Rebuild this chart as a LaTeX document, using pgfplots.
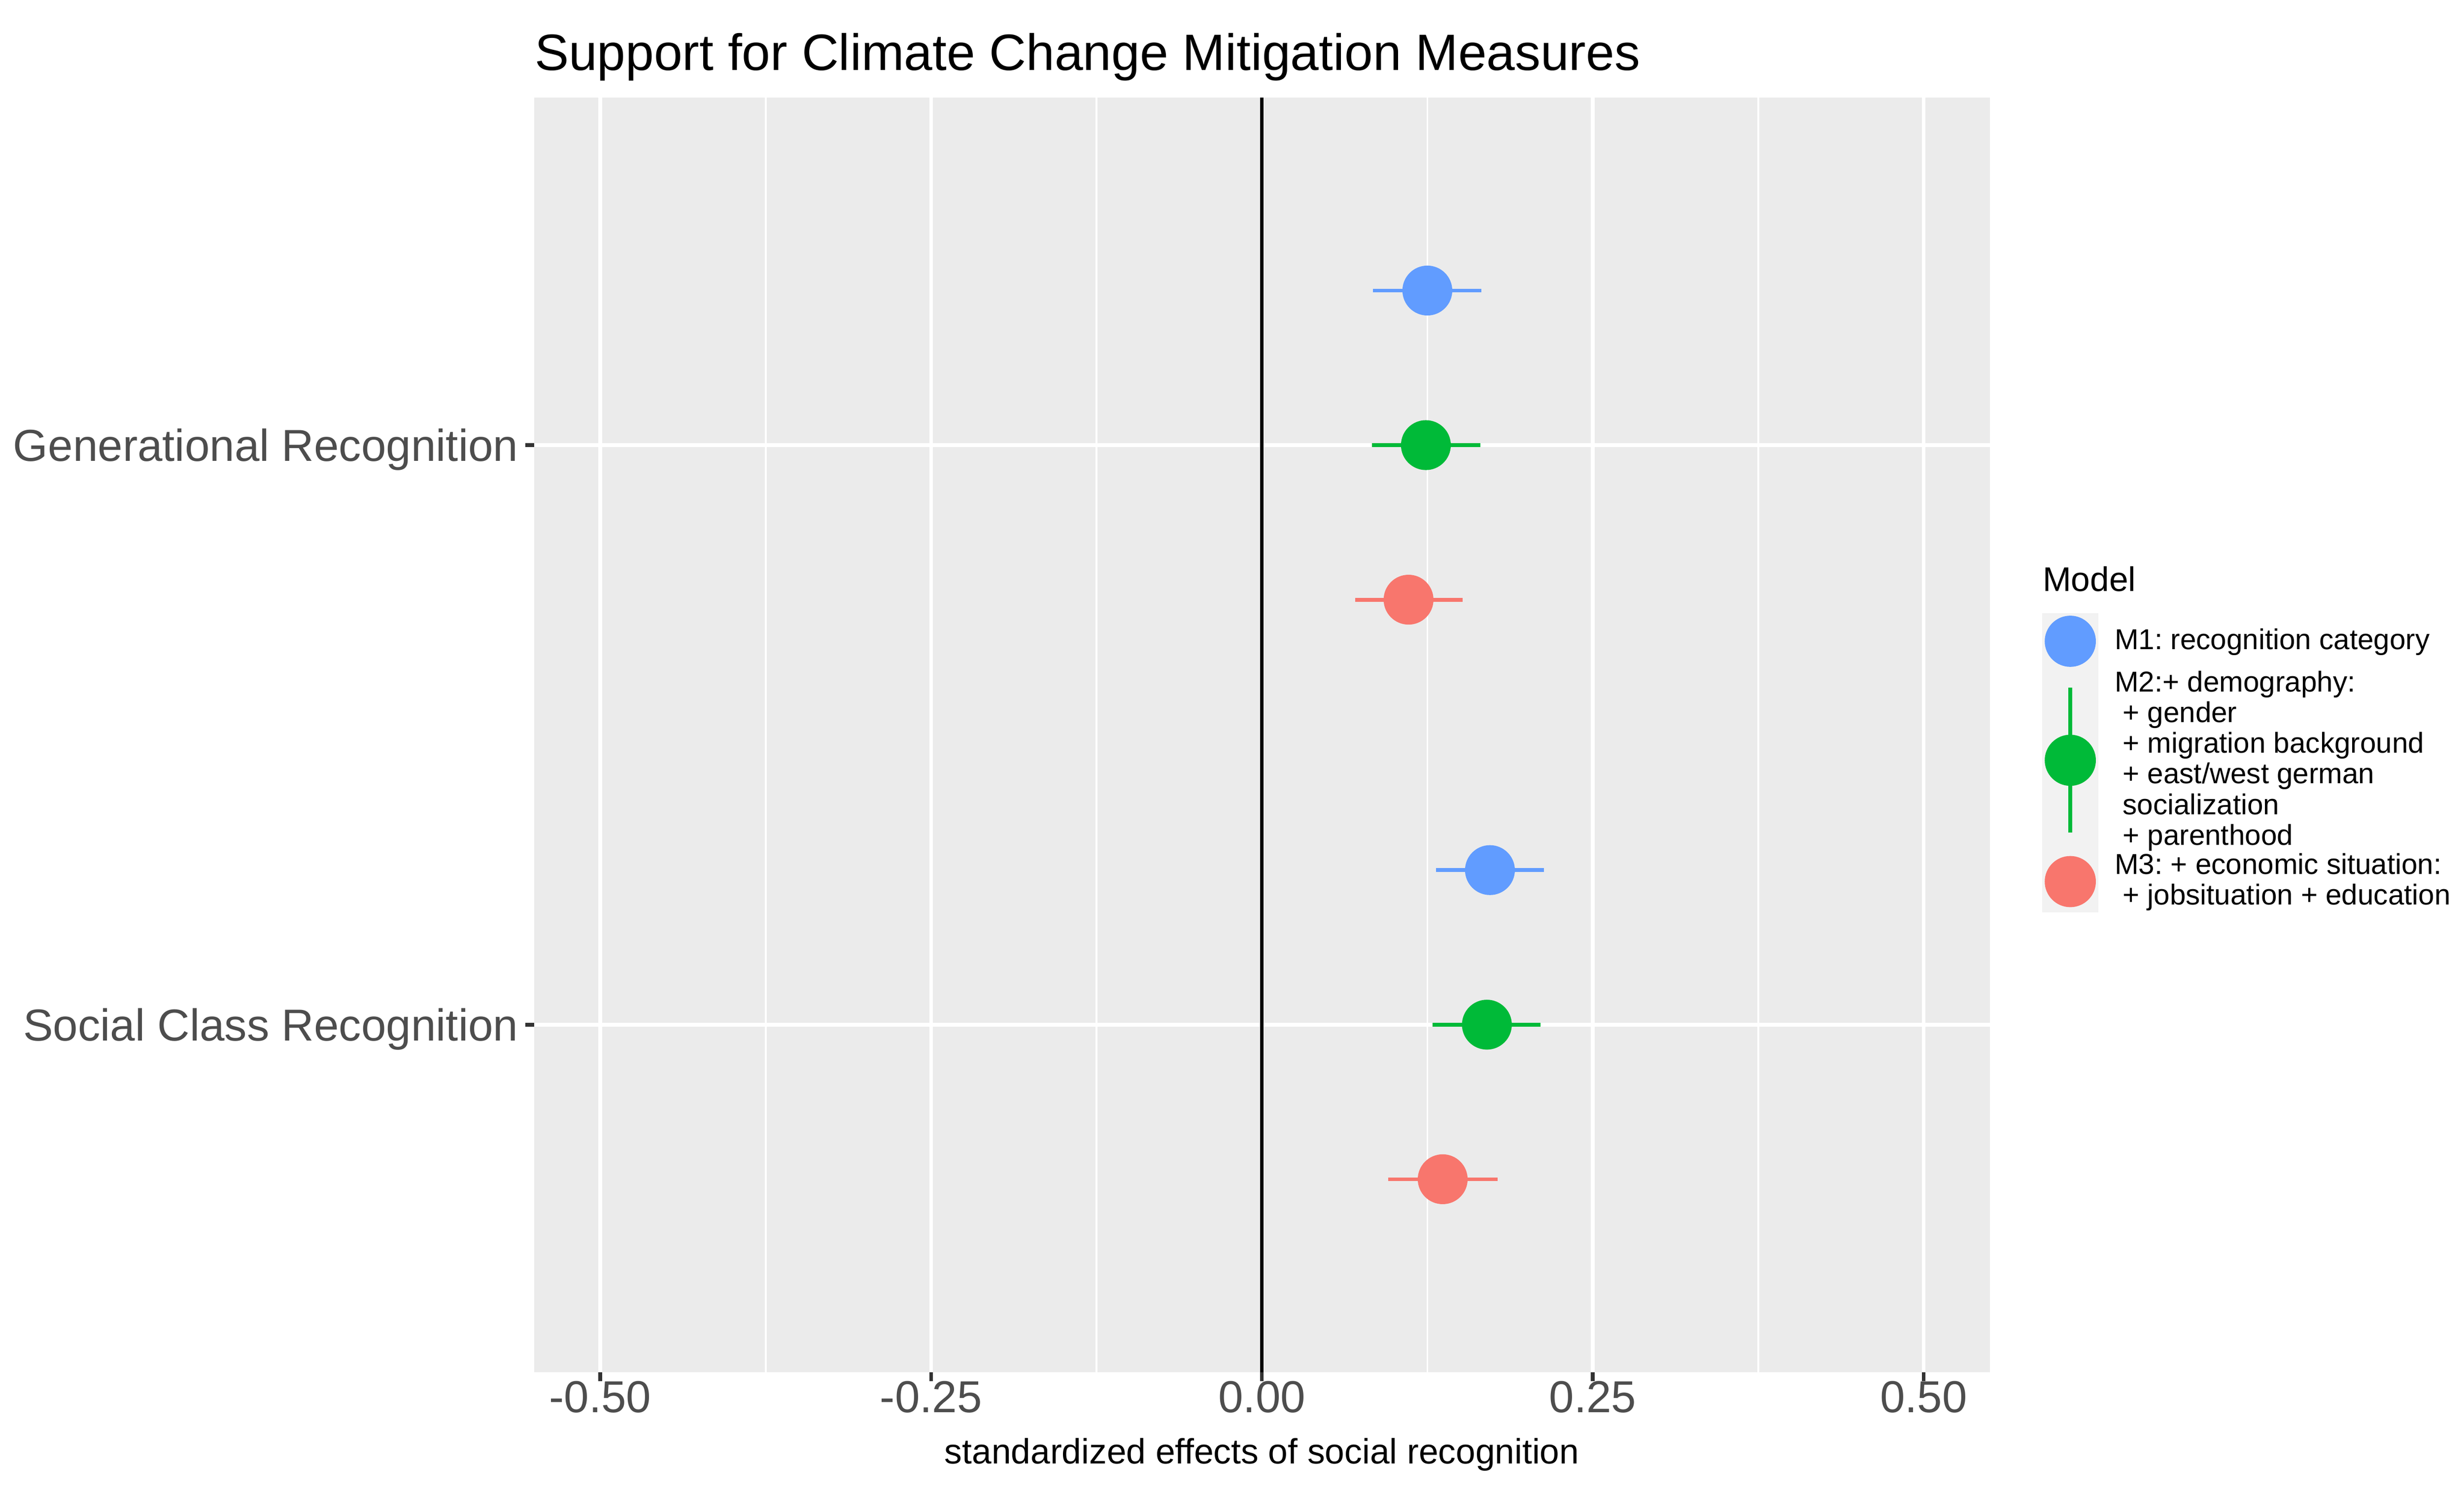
\documentclass[border=0pt]{standalone}
\usepackage{fontspec}
\setmainfont{Liberation Sans}
\usepackage{pgfplots}
\pgfplotsset{compat=1.18}
\frenchspacing

\definecolor{m1}{HTML}{619CFF}
\definecolor{m2}{HTML}{00BA38}
\definecolor{m3}{HTML}{F8766D}
\definecolor{panel}{HTML}{EBEBEB}
\definecolor{keybg}{HTML}{F2F2F2}
\definecolor{ticklab}{HTML}{4D4D4D}
\definecolor{tickcol}{HTML}{333333}

% x = estimate, em/ep = distance to lower/upper end of the interval
% y: 2 = Generational, 1 = Social Class (dodged by 0.2667)
\pgfplotstableread{
x      y       em      ep
0.1250 2.2667  0.0411  0.0409
0.1723 1.2667  0.0409  0.0408
}\mone
\pgfplotstableread{
x      y       em      ep
0.1239 2.0000  0.0409  0.0411
0.1700 1.0000  0.0410  0.0405
}\mtwo
\pgfplotstableread{
x      y       em      ep
0.1108 1.7333  0.0405  0.0409
0.1366 0.7333  0.0411  0.0414
}\mthree

\pgfplotsset{
  pt/.style={only marks, color=#1, mark=*, mark size=7.6pt,
    mark options={draw=#1, fill=#1, line width=0.4pt},
    error bars/.cd, x dir=both, x explicit, error mark=none,
    error bar style={#1, line width=1.2pt}, /pgfplots/.cd},
}

\begin{document}
\begin{tikzpicture}
\path[use as bounding box] (0,0) rectangle (771pt,467.6pt);
\begin{axis}[
    at={(167.11pt,38.26pt)}, anchor=south west,
    width=455.5pt, height=398.87pt, scale only axis,
    xmin=-0.55, xmax=0.55, ymin=0.4, ymax=2.6,
    axis background/.style={fill=panel},
    axis line style={draw=none},
    tick pos=left, tick align=outside,
    major tick length=2.76pt, minor tick length=0pt,
    every tick/.style={tickcol, line width=1.15pt},
    xtick={-0.5,-0.25,0,0.25,0.5},
    xticklabels={-0.50,-0.25,0.00,0.25,0.50},
    minor xtick={-0.375,-0.125,0.125,0.375},
    ytick={1,2},
    yticklabels={Social Class Recognition,Generational Recognition},
    xmajorgrids, ymajorgrids, xminorgrids,
    major grid style={white, line width=1.15pt},
    minor grid style={white, line width=0.57pt},
    ticklabel style={font=\fontsize{14}{16}\selectfont, text=ticklab, inner sep=0pt},
    xticklabel style={anchor=base, yshift=-9.8pt},
    yticklabel style={anchor=base east, xshift=-2pt, yshift=-5pt},
    xlabel={standardized effects of social recognition},
    xlabel style={at={(axis description cs:0.5,0)}, anchor=base, inner sep=0pt,
                  yshift=-28.55pt, font=\fontsize{11}{13}\selectfont},
    title={Support for Climate Change Mitigation Measures},
    title style={at={(axis description cs:0,1)}, anchor=base west, inner sep=0pt,
                 yshift=2.5pt, font=\fontsize{16}{19}\selectfont},
    legend style={at={(1.0359,0.5956)}, anchor=north west,
                  draw=none, fill=none, inner sep=0pt, outer sep=0pt,
                  row sep=0pt, column sep=5.06pt,
                  font=\fontsize{9}{9.6}\selectfont,
                  nodes={inner sep=0pt},
                  cells={align=left}},
    legend cell align=left,
]
\addplot[forget plot, black, line width=1.15pt] coordinates {(0,0.4) (0,2.6)};

\addplot[pt=m1, legend image code/.code={
    \fill[keybg] (-8.64pt,-8.64pt) rectangle (8.64pt,8.64pt);
    \fill[m1] (0,0) circle (7.8pt);}]
    table[x=x, y=y, x error minus=em, x error plus=ep] {\mone};
\addlegendentry{M1: recognition category}

\addplot[pt=m2, legend image code/.code={
    \fill[keybg] (-8.64pt,-28.19pt) rectangle (8.64pt,28.19pt);
    \draw[m2, line width=1.2pt] (0,-22.67pt) -- (0,22.67pt);
    \fill[m2] (0,0) circle (7.8pt);}]
    table[x=x, y=y, x error minus=em, x error plus=ep] {\mtwo};
\addlegendentry{M2:+ demography:\\\hspace*{2.5pt}+ gender\\\hspace*{2.5pt}+ migration background\\\hspace*{2.5pt}+ east/west german\\\hspace*{2.5pt}socialization\\\hspace*{2.5pt}+ parenthood}

\addplot[pt=m3, legend image code/.code={
    \fill[keybg] (-8.64pt,-9.36pt) rectangle (8.64pt,9.36pt);
    \fill[m3] (0,0) circle (7.8pt);}]
    table[x=x, y=y, x error minus=em, x error plus=ep] {\mthree};
\addlegendentry{M3: + economic situation:\\\hspace*{2.5pt}+ jobsituation + education}
\end{axis}
\node[anchor=base west, inner sep=0pt, font=\fontsize{10.7}{13}\selectfont]
    at (638.96pt,282.7pt) {Model};
\end{tikzpicture}
\end{document}
